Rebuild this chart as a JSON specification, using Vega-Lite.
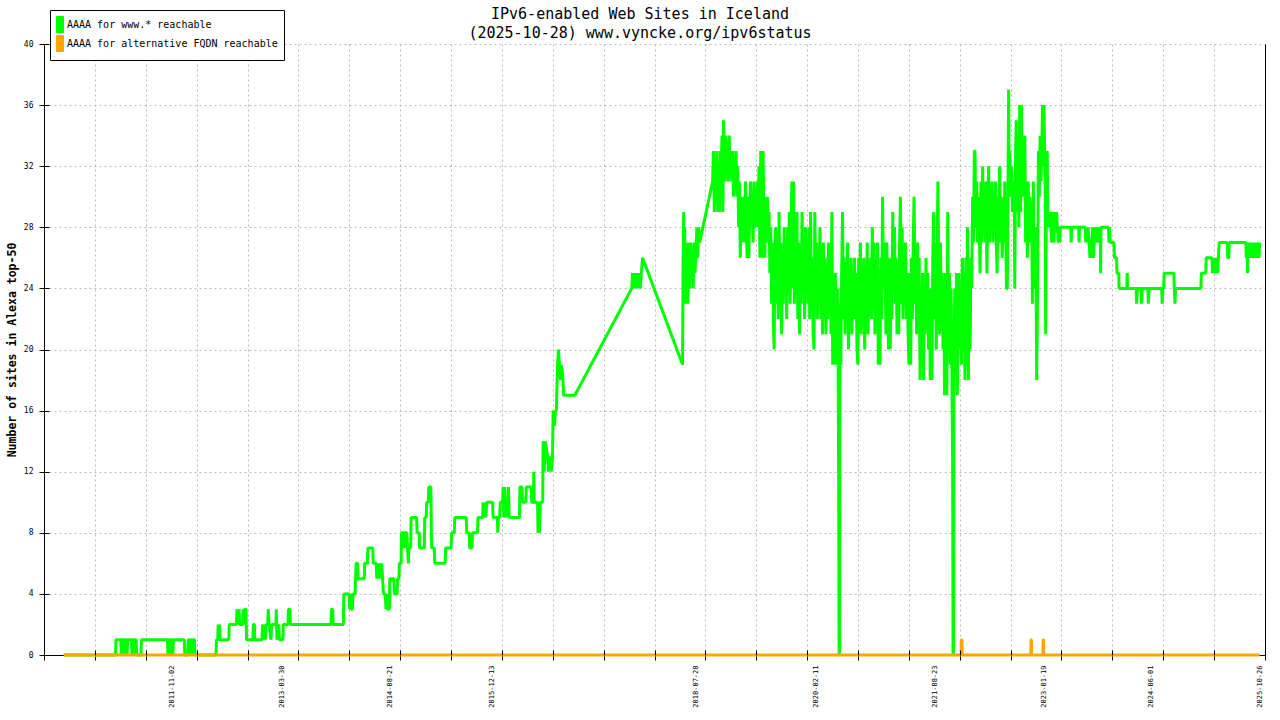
{
  "$schema": "https://vega.github.io/schema/vega-lite/v6.json",
  "width": 1221,
  "height": 611,
  "autosize": {"type": "none"},
  "padding": {"left": 44, "top": 44, "right": 15, "bottom": 65},
  "background": "white",
  "title": {
    "text": ["IPv6-enabled Web Sites in Iceland", "(2025-10-28) www.vyncke.org/ipv6status"],
    "font": "DejaVu Sans Mono",
    "fontSize": 15,
    "fontWeight": "normal",
    "color": "black",
    "lineHeight": 19,
    "anchor": "middle",
    "frame": "group",
    "dx": -14.5,
    "offset": -31
  },
  "datasets": {
    "www": [
      {"d":"2010-06-13","v":0},{"d":"2011-02-11","v":0},{"d":"2011-02-13","v":1},{"d":"2011-03-08","v":1},{"d":"2011-03-10","v":0},{"d":"2011-03-13","v":1},{"d":"2011-03-20","v":1},{"d":"2011-03-22","v":0},{"d":"2011-03-25","v":1},{"d":"2011-04-04","v":1},{"d":"2011-04-06","v":0},{"d":"2011-04-09","v":1},{"d":"2011-04-27","v":1},{"d":"2011-04-29","v":0},{"d":"2011-05-02","v":1},{"d":"2011-05-10","v":1},{"d":"2011-05-12","v":0},{"d":"2011-05-15","v":1},{"d":"2011-05-19","v":1},{"d":"2011-05-21","v":0},{"d":"2011-06-10","v":0},{"d":"2011-06-13","v":1},
      {"d":"2011-10-13","v":1},{"d":"2011-10-15","v":0},{"d":"2011-10-18","v":1},{"d":"2011-10-24","v":1},{"d":"2011-10-26","v":0},{"d":"2011-10-29","v":1},{"d":"2011-11-05","v":1},{"d":"2011-11-07","v":0},{"d":"2011-11-10","v":1},{"d":"2011-12-31","v":1},{"d":"2012-01-02","v":0},{"d":"2012-01-16","v":0},{"d":"2012-01-18","v":1},{"d":"2012-01-24","v":1},{"d":"2012-01-26","v":0},{"d":"2012-01-29","v":1},{"d":"2012-02-05","v":1},{"d":"2012-02-07","v":0},{"d":"2012-02-10","v":1},{"d":"2012-02-17","v":1},{"d":"2012-02-19","v":0},
      {"d":"2012-05-28","v":0},{"d":"2012-05-30","v":1},{"d":"2012-06-05","v":1},{"d":"2012-06-07","v":2},{"d":"2012-06-10","v":1},{"d":"2012-06-13","v":2},{"d":"2012-06-16","v":1},{"d":"2012-07-27","v":1},{"d":"2012-07-29","v":2},{"d":"2012-09-01","v":2},{"d":"2012-09-03","v":3},{"d":"2012-09-10","v":2},{"d":"2012-09-13","v":3},{"d":"2012-09-16","v":2},{"d":"2012-09-30","v":2},{"d":"2012-10-02","v":3},{"d":"2012-10-06","v":2},{"d":"2012-10-09","v":3},{"d":"2012-10-16","v":3},{"d":"2012-10-18","v":1},{"d":"2012-11-17","v":1},{"d":"2012-11-19","v":2},{"d":"2012-11-24","v":2},{"d":"2012-11-26","v":1},{"d":"2012-12-30","v":1},
      {"d":"2013-01-01","v":2},{"d":"2013-01-05","v":1},{"d":"2013-01-08","v":2},{"d":"2013-01-15","v":1},{"d":"2013-01-18","v":2},{"d":"2013-01-26","v":2},{"d":"2013-01-28","v":3},{"d":"2013-02-01","v":2},{"d":"2013-02-10","v":1},{"d":"2013-02-13","v":2},{"d":"2013-03-05","v":2},{"d":"2013-03-07","v":3},{"d":"2013-03-10","v":1},{"d":"2013-03-18","v":2},{"d":"2013-03-22","v":1},{"d":"2013-04-07","v":1},{"d":"2013-04-09","v":2},{"d":"2013-05-01","v":2},{"d":"2013-05-03","v":3},{"d":"2013-05-10","v":3},{"d":"2013-05-12","v":2},{"d":"2013-11-19","v":2},{"d":"2013-11-21","v":3},{"d":"2013-11-27","v":3},{"d":"2013-11-29","v":2},
      {"d":"2014-01-16","v":2},{"d":"2014-01-18","v":4},{"d":"2014-02-12","v":4},{"d":"2014-02-14","v":3},{"d":"2014-02-18","v":4},{"d":"2014-02-22","v":3},{"d":"2014-02-28","v":3},{"d":"2014-03-02","v":4},{"d":"2014-03-12","v":4},{"d":"2014-03-14","v":5},{"d":"2014-03-17","v":6},{"d":"2014-03-24","v":6},{"d":"2014-03-26","v":5},{"d":"2014-04-24","v":5},{"d":"2014-04-26","v":6},{"d":"2014-05-09","v":6},{"d":"2014-05-11","v":7},{"d":"2014-06-03","v":7},{"d":"2014-06-05","v":6},{"d":"2014-06-19","v":6},{"d":"2014-06-22","v":5},{"d":"2014-06-26","v":6},{"d":"2014-07-01","v":5},{"d":"2014-07-05","v":6},{"d":"2014-07-10","v":5},{"d":"2014-07-15","v":6},{"d":"2014-07-19","v":5},{"d":"2014-07-23","v":4},{"d":"2014-08-01","v":4},{"d":"2014-08-04","v":3},{"d":"2014-08-08","v":4},{"d":"2014-08-12","v":3},{"d":"2014-08-20","v":3},{"d":"2014-08-22","v":5},{"d":"2014-09-10","v":5},{"d":"2014-09-12","v":4},{"d":"2014-09-25","v":4},{"d":"2014-09-27","v":5},{"d":"2014-10-04","v":5},{"d":"2014-10-06","v":6},{"d":"2014-10-14","v":6},{"d":"2014-10-16","v":8},{"d":"2014-10-27","v":8},{"d":"2014-10-29","v":7},{"d":"2014-11-02","v":8},{"d":"2014-11-10","v":8},{"d":"2014-11-13","v":7},{"d":"2014-11-17","v":6},{"d":"2014-11-20","v":7},{"d":"2014-11-28","v":7},{"d":"2014-11-30","v":9},{"d":"2014-12-26","v":9},{"d":"2014-12-28","v":8},
      {"d":"2015-01-07","v":8},{"d":"2015-01-09","v":7},{"d":"2015-01-31","v":7},{"d":"2015-02-02","v":9},{"d":"2015-02-09","v":9},{"d":"2015-02-11","v":10},{"d":"2015-02-19","v":10},{"d":"2015-02-21","v":11},{"d":"2015-03-03","v":11},{"d":"2015-03-05","v":8},{"d":"2015-03-07","v":7},{"d":"2015-03-19","v":7},{"d":"2015-03-21","v":6},{"d":"2015-05-09","v":6},{"d":"2015-05-11","v":7},{"d":"2015-06-06","v":7},{"d":"2015-06-08","v":8},{"d":"2015-06-21","v":8},{"d":"2015-06-23","v":9},{"d":"2015-08-16","v":9},{"d":"2015-08-18","v":8},{"d":"2015-08-30","v":8},{"d":"2015-09-01","v":7},{"d":"2015-09-12","v":7},{"d":"2015-09-14","v":8},{"d":"2015-10-08","v":8},{"d":"2015-10-10","v":9},{"d":"2015-11-01","v":9},{"d":"2015-11-03","v":10},{"d":"2015-11-07","v":9},{"d":"2015-11-12","v":10},{"d":"2015-11-16","v":9},{"d":"2015-11-20","v":10},{"d":"2015-12-18","v":10},{"d":"2015-12-20","v":9},
      {"d":"2016-01-09","v":9},{"d":"2016-01-11","v":8},{"d":"2016-01-14","v":9},{"d":"2016-01-20","v":9},{"d":"2016-01-23","v":10},{"d":"2016-02-03","v":10},{"d":"2016-02-05","v":11},{"d":"2016-02-08","v":9},{"d":"2016-02-12","v":11},{"d":"2016-02-16","v":9},{"d":"2016-02-20","v":10},{"d":"2016-02-24","v":9},{"d":"2016-03-01","v":11},{"d":"2016-03-05","v":9},{"d":"2016-04-22","v":9},{"d":"2016-04-24","v":11},{"d":"2016-05-04","v":11},{"d":"2016-05-06","v":10},{"d":"2016-05-22","v":10},{"d":"2016-05-24","v":11},{"d":"2016-06-16","v":11},{"d":"2016-06-18","v":10},{"d":"2016-06-26","v":10},{"d":"2016-06-28","v":12},{"d":"2016-06-30","v":10},{"d":"2016-07-16","v":10},{"d":"2016-07-18","v":8},{"d":"2016-07-22","v":9},{"d":"2016-07-25","v":8},{"d":"2016-07-29","v":10},{"d":"2016-08-09","v":10},{"d":"2016-08-11","v":14},{"d":"2016-08-16","v":12},{"d":"2016-08-21","v":14},{"d":"2016-09-01","v":13},{"d":"2016-09-05","v":12},{"d":"2016-09-12","v":13},{"d":"2016-09-18","v":12},{"d":"2016-09-24","v":13},{"d":"2016-09-27","v":16},{"d":"2016-10-03","v":15},{"d":"2016-10-08","v":16},{"d":"2016-10-12","v":16},{"d":"2016-10-14","v":17},{"d":"2016-10-18","v":19},{"d":"2016-10-22","v":20},{"d":"2016-10-27","v":19},{"d":"2016-11-01","v":18},{"d":"2016-11-06","v":19},{"d":"2016-11-12","v":18},{"d":"2016-11-15","v":17},{"d":"2017-01-07","v":17},
      {"d":"2017-10-01","v":24},{"d":"2017-10-05","v":25},{"d":"2017-10-09","v":24},{"d":"2017-10-14","v":25},{"d":"2017-10-19","v":24},{"d":"2017-10-24","v":25},{"d":"2017-10-29","v":24},{"d":"2017-11-03","v":25},{"d":"2017-11-10","v":24},{"d":"2017-11-15","v":25},{"d":"2017-11-21","v":26},{"d":"2018-05-28","v":19},
      {"d":"2018-05-30","v":25},{"d":"2018-06-02","v":29},{"d":"2018-06-04","v":24},{"d":"2018-06-07","v":28},{"d":"2018-06-10","v":23},{"d":"2018-06-13","v":27},{"d":"2018-06-16","v":23},{"d":"2018-06-19","v":26},{"d":"2018-06-22","v":23},{"d":"2018-06-26","v":27},{"d":"2018-07-01","v":24},{"d":"2018-07-05","v":27},{"d":"2018-07-09","v":25},{"d":"2018-07-13","v":26},{"d":"2018-07-17","v":24},{"d":"2018-07-21","v":27},{"d":"2018-07-25","v":25},{"d":"2018-07-29","v":26},{"d":"2018-08-03","v":28},{"d":"2018-08-07","v":26},{"d":"2018-08-11","v":28},{"d":"2018-08-16","v":27},
      {"d":"2018-10-16","v":31},{"d":"2018-10-20","v":33},{"d":"2018-10-24","v":29},{"d":"2018-10-28","v":32},{"d":"2018-11-01","v":30},{"d":"2018-11-05","v":33},{"d":"2018-11-09","v":29},{"d":"2018-11-13","v":32},{"d":"2018-11-17","v":29},{"d":"2018-11-21","v":33},{"d":"2018-11-25","v":31},{"d":"2018-11-29","v":34},{"d":"2018-12-03","v":29},{"d":"2018-12-06","v":35},{"d":"2018-12-09","v":33},{"d":"2018-12-13","v":31},{"d":"2018-12-17","v":34},{"d":"2018-12-21","v":32},{"d":"2018-12-25","v":33},{"d":"2018-12-29","v":31},
      {"d":"2019-01-02","v":34},{"d":"2019-01-06","v":32},{"d":"2019-01-10","v":33},{"d":"2019-01-14","v":31},{"d":"2019-01-18","v":33},{"d":"2019-01-22","v":30},{"d":"2019-01-26","v":32},{"d":"2019-01-30","v":31},{"d":"2019-02-03","v":33},{"d":"2019-02-07","v":30},{"d":"2019-02-11","v":32},{"d":"2019-02-15","v":28},{"d":"2019-02-19","v":31},{"d":"2019-02-23","v":26},{"d":"2019-02-27","v":30},{"d":"2019-03-03","v":27},{"d":"2019-03-07","v":29},{"d":"2019-03-11","v":30},{"d":"2019-03-15","v":27},{"d":"2019-03-19","v":31},{"d":"2019-03-23","v":28},{"d":"2019-03-27","v":26},{"d":"2019-03-31","v":30},{"d":"2019-04-04","v":26},{"d":"2019-04-08","v":29},{"d":"2019-04-12","v":31},{"d":"2019-04-16","v":28},{"d":"2019-04-20","v":30},{"d":"2019-04-24","v":27},{"d":"2019-04-28","v":31},{"d":"2019-05-02","v":29},{"d":"2019-05-06","v":30},{"d":"2019-05-10","v":28},{"d":"2019-05-14","v":31},{"d":"2019-05-18","v":29},{"d":"2019-05-22","v":32},{"d":"2019-05-26","v":26},{"d":"2019-05-30","v":33},{"d":"2019-06-03","v":29},{"d":"2019-06-06","v":26},{"d":"2019-06-10","v":33},{"d":"2019-06-14","v":28},{"d":"2019-06-18","v":26},{"d":"2019-06-22","v":30},{"d":"2019-06-26","v":28},{"d":"2019-06-30","v":30},{"d":"2019-07-04","v":27},{"d":"2019-07-08","v":29},{"d":"2019-07-12","v":25},{"d":"2019-07-16","v":28},{"d":"2019-07-20","v":23},{"d":"2019-07-24","v":27},{"d":"2019-07-28","v":22},{"d":"2019-08-01","v":20},{"d":"2019-08-04","v":26},{"d":"2019-08-08","v":28},{"d":"2019-08-12","v":23},{"d":"2019-08-16","v":27},{"d":"2019-08-20","v":22},{"d":"2019-08-24","v":29},{"d":"2019-08-28","v":24},{"d":"2019-09-01","v":27},{"d":"2019-09-05","v":21},{"d":"2019-09-09","v":26},{"d":"2019-09-13","v":23},{"d":"2019-09-17","v":28},{"d":"2019-09-21","v":24},{"d":"2019-09-25","v":27},{"d":"2019-09-29","v":22},{"d":"2019-10-03","v":28},{"d":"2019-10-07","v":25},{"d":"2019-10-11","v":29},{"d":"2019-10-15","v":23},{"d":"2019-10-19","v":27},{"d":"2019-10-23","v":31},{"d":"2019-10-27","v":24},{"d":"2019-10-31","v":31},{"d":"2019-11-04","v":23},{"d":"2019-11-08","v":28},{"d":"2019-11-12","v":25},{"d":"2019-11-16","v":29},{"d":"2019-11-20","v":22},{"d":"2019-11-24","v":27},{"d":"2019-11-28","v":21},{"d":"2019-12-02","v":26},{"d":"2019-12-06","v":23},{"d":"2019-12-10","v":29},{"d":"2019-12-14","v":24},{"d":"2019-12-18","v":27},{"d":"2019-12-22","v":22},{"d":"2019-12-26","v":28},{"d":"2019-12-30","v":24},
      {"d":"2020-01-03","v":27},{"d":"2020-01-07","v":23},{"d":"2020-01-11","v":28},{"d":"2020-01-15","v":22},{"d":"2020-01-19","v":29},{"d":"2020-01-23","v":24},{"d":"2020-01-27","v":26},{"d":"2020-01-31","v":21},{"d":"2020-02-04","v":20},{"d":"2020-02-08","v":29},{"d":"2020-02-12","v":24},{"d":"2020-02-16","v":27},{"d":"2020-02-20","v":22},{"d":"2020-02-24","v":26},{"d":"2020-02-28","v":23},{"d":"2020-03-03","v":28},{"d":"2020-03-07","v":22},{"d":"2020-03-11","v":25},{"d":"2020-03-15","v":21},{"d":"2020-03-19","v":27},{"d":"2020-03-23","v":23},{"d":"2020-03-27","v":26},{"d":"2020-03-31","v":21},{"d":"2020-04-04","v":25},{"d":"2020-04-08","v":22},{"d":"2020-04-12","v":27},{"d":"2020-04-16","v":24},{"d":"2020-04-20","v":26},{"d":"2020-04-24","v":21},{"d":"2020-04-28","v":29},{"d":"2020-05-02","v":19},{"d":"2020-05-06","v":24},{"d":"2020-05-10","v":19},{"d":"2020-05-14","v":25},{"d":"2020-05-18","v":22},{"d":"2020-05-22","v":19},{"d":"2020-05-26","v":24},{"d":"2020-05-30","v":11},{"d":"2020-06-01","v":0},{"d":"2020-06-03","v":0},{"d":"2020-06-05","v":23},{"d":"2020-06-09","v":19},{"d":"2020-06-13","v":25},{"d":"2020-06-17","v":29},{"d":"2020-06-21","v":22},{"d":"2020-06-25","v":26},{"d":"2020-06-29","v":21},{"d":"2020-07-03","v":25},{"d":"2020-07-07","v":23},{"d":"2020-07-11","v":27},{"d":"2020-07-15","v":20},{"d":"2020-07-19","v":25},{"d":"2020-07-23","v":22},{"d":"2020-07-27","v":26},{"d":"2020-07-31","v":21},{"d":"2020-08-04","v":24},{"d":"2020-08-08","v":22},{"d":"2020-08-12","v":26},{"d":"2020-08-16","v":23},{"d":"2020-08-20","v":25},{"d":"2020-08-24","v":20},{"d":"2020-08-28","v":19},{"d":"2020-09-01","v":26},{"d":"2020-09-05","v":23},{"d":"2020-09-09","v":27},{"d":"2020-09-13","v":21},{"d":"2020-09-17","v":25},{"d":"2020-09-21","v":22},{"d":"2020-09-25","v":26},{"d":"2020-09-29","v":20},{"d":"2020-10-03","v":24},{"d":"2020-10-07","v":22},{"d":"2020-10-11","v":27},{"d":"2020-10-15","v":21},{"d":"2020-10-19","v":25},{"d":"2020-10-23","v":23},{"d":"2020-10-27","v":26},{"d":"2020-10-31","v":22},{"d":"2020-11-04","v":28},{"d":"2020-11-08","v":24},{"d":"2020-11-12","v":27},{"d":"2020-11-16","v":21},{"d":"2020-11-20","v":26},{"d":"2020-11-24","v":23},{"d":"2020-11-28","v":27},{"d":"2020-12-02","v":19},{"d":"2020-12-06","v":24},{"d":"2020-12-10","v":19},{"d":"2020-12-14","v":26},{"d":"2020-12-18","v":22},{"d":"2020-12-22","v":30},{"d":"2020-12-26","v":24},{"d":"2020-12-30","v":27},
      {"d":"2021-01-03","v":25},{"d":"2021-01-07","v":21},{"d":"2021-01-11","v":27},{"d":"2021-01-15","v":23},{"d":"2021-01-19","v":20},{"d":"2021-01-23","v":26},{"d":"2021-01-27","v":20},{"d":"2021-01-31","v":25},{"d":"2021-02-04","v":22},{"d":"2021-02-08","v":29},{"d":"2021-02-12","v":24},{"d":"2021-02-16","v":28},{"d":"2021-02-20","v":23},{"d":"2021-02-24","v":26},{"d":"2021-02-28","v":21},{"d":"2021-03-04","v":25},{"d":"2021-03-08","v":21},{"d":"2021-03-12","v":27},{"d":"2021-03-16","v":30},{"d":"2021-03-20","v":23},{"d":"2021-03-24","v":28},{"d":"2021-03-28","v":22},{"d":"2021-04-01","v":26},{"d":"2021-04-05","v":23},{"d":"2021-04-09","v":27},{"d":"2021-04-13","v":22},{"d":"2021-04-17","v":25},{"d":"2021-04-21","v":21},{"d":"2021-04-25","v":19},{"d":"2021-04-29","v":25},{"d":"2021-05-03","v":19},{"d":"2021-05-07","v":26},{"d":"2021-05-11","v":22},{"d":"2021-05-15","v":27},{"d":"2021-05-19","v":30},{"d":"2021-05-23","v":23},{"d":"2021-05-27","v":26},{"d":"2021-05-31","v":21},{"d":"2021-06-04","v":27},{"d":"2021-06-08","v":23},{"d":"2021-06-12","v":26},{"d":"2021-06-16","v":18},{"d":"2021-06-20","v":24},{"d":"2021-06-24","v":20},{"d":"2021-06-28","v":25},{"d":"2021-07-02","v":18},{"d":"2021-07-06","v":23},{"d":"2021-07-10","v":21},{"d":"2021-07-14","v":26},{"d":"2021-07-18","v":22},{"d":"2021-07-22","v":25},{"d":"2021-07-26","v":20},{"d":"2021-07-30","v":24},{"d":"2021-08-03","v":18},{"d":"2021-08-07","v":24},{"d":"2021-08-11","v":18},{"d":"2021-08-15","v":26},{"d":"2021-08-19","v":29},{"d":"2021-08-23","v":22},{"d":"2021-08-27","v":27},{"d":"2021-08-31","v":20},{"d":"2021-09-04","v":26},{"d":"2021-09-08","v":31},{"d":"2021-09-12","v":24},{"d":"2021-09-16","v":21},{"d":"2021-09-20","v":27},{"d":"2021-09-24","v":22},{"d":"2021-09-28","v":25},{"d":"2021-10-02","v":20},{"d":"2021-10-06","v":24},{"d":"2021-10-09","v":17},{"d":"2021-10-13","v":25},{"d":"2021-10-17","v":21},{"d":"2021-10-20","v":17},{"d":"2021-10-24","v":29},{"d":"2021-10-28","v":22},{"d":"2021-11-01","v":25},{"d":"2021-11-05","v":19},{"d":"2021-11-09","v":24},{"d":"2021-11-13","v":18},{"d":"2021-11-16","v":13},{"d":"2021-11-18","v":0},{"d":"2021-11-20","v":0},{"d":"2021-11-22","v":17},{"d":"2021-11-26","v":24},{"d":"2021-11-30","v":19},{"d":"2021-12-04","v":25},{"d":"2021-12-08","v":17},{"d":"2021-12-12","v":22},{"d":"2021-12-16","v":25},{"d":"2021-12-20","v":20},{"d":"2021-12-24","v":24},{"d":"2021-12-28","v":19},
      {"d":"2022-01-01","v":26},{"d":"2022-01-05","v":21},{"d":"2022-01-09","v":25},{"d":"2022-01-13","v":18},{"d":"2022-01-17","v":26},{"d":"2022-01-21","v":19},{"d":"2022-01-25","v":28},{"d":"2022-01-29","v":18},{"d":"2022-02-02","v":25},{"d":"2022-02-06","v":20},{"d":"2022-02-10","v":26},{"d":"2022-02-14","v":24},{"d":"2022-02-18","v":30},{"d":"2022-02-22","v":27},{"d":"2022-02-26","v":33},{"d":"2022-03-01","v":33},{"d":"2022-03-05","v":28},{"d":"2022-03-09","v":31},{"d":"2022-03-13","v":27},{"d":"2022-03-17","v":30},{"d":"2022-03-21","v":28},{"d":"2022-03-25","v":25},{"d":"2022-03-29","v":31},{"d":"2022-04-02","v":27},{"d":"2022-04-06","v":32},{"d":"2022-04-10","v":28},{"d":"2022-04-14","v":30},{"d":"2022-04-18","v":27},{"d":"2022-04-22","v":31},{"d":"2022-04-26","v":25},{"d":"2022-04-30","v":29},{"d":"2022-05-04","v":32},{"d":"2022-05-08","v":27},{"d":"2022-05-12","v":30},{"d":"2022-05-16","v":28},{"d":"2022-05-20","v":31},{"d":"2022-05-24","v":27},{"d":"2022-05-28","v":30},{"d":"2022-06-01","v":28},{"d":"2022-06-05","v":31},{"d":"2022-06-09","v":27},{"d":"2022-06-13","v":25},{"d":"2022-06-17","v":30},{"d":"2022-06-21","v":28},{"d":"2022-06-25","v":32},{"d":"2022-06-29","v":27},{"d":"2022-07-03","v":30},{"d":"2022-07-07","v":26},{"d":"2022-07-11","v":29},{"d":"2022-07-15","v":27},{"d":"2022-07-19","v":31},{"d":"2022-07-23","v":28},{"d":"2022-07-27","v":24},{"d":"2022-07-31","v":24},{"d":"2022-08-03","v":30},{"d":"2022-08-06","v":37},{"d":"2022-08-09","v":30},{"d":"2022-08-12","v":33},{"d":"2022-08-16","v":30},{"d":"2022-08-20","v":32},{"d":"2022-08-24","v":29},{"d":"2022-08-28","v":31},{"d":"2022-09-01","v":30},{"d":"2022-09-04","v":24},{"d":"2022-09-08","v":33},{"d":"2022-09-11","v":35},{"d":"2022-09-15","v":29},{"d":"2022-09-19","v":34},{"d":"2022-09-23","v":28},{"d":"2022-09-27","v":36},{"d":"2022-10-01","v":29},{"d":"2022-10-05","v":36},{"d":"2022-10-09","v":30},{"d":"2022-10-13","v":33},{"d":"2022-10-17","v":30},{"d":"2022-10-21","v":34},{"d":"2022-10-25","v":27},{"d":"2022-10-29","v":30},{"d":"2022-11-02","v":26},{"d":"2022-11-06","v":31},{"d":"2022-11-10","v":27},{"d":"2022-11-14","v":30},{"d":"2022-11-18","v":27},{"d":"2022-11-22","v":29},{"d":"2022-11-26","v":23},{"d":"2022-11-30","v":31},{"d":"2022-12-04","v":24},{"d":"2022-12-08","v":28},{"d":"2022-12-12","v":26},{"d":"2022-12-16","v":18},{"d":"2022-12-20","v":24},{"d":"2022-12-24","v":33},{"d":"2022-12-28","v":30},
      {"d":"2023-01-01","v":34},{"d":"2023-01-05","v":31},{"d":"2023-01-09","v":33},{"d":"2023-01-12","v":36},{"d":"2023-01-16","v":32},{"d":"2023-01-19","v":36},{"d":"2023-01-22","v":33},{"d":"2023-01-25","v":30},{"d":"2023-01-27","v":21},{"d":"2023-01-30","v":29},{"d":"2023-02-03","v":33},{"d":"2023-02-07","v":28},{"d":"2023-02-11","v":29},{"d":"2023-02-15","v":28},{"d":"2023-02-19","v":29},{"d":"2023-02-23","v":27},{"d":"2023-02-27","v":29},{"d":"2023-03-03","v":28},{"d":"2023-03-07","v":27},{"d":"2023-03-11","v":29},{"d":"2023-03-15","v":28},{"d":"2023-03-19","v":29},{"d":"2023-03-23","v":28},{"d":"2023-03-27","v":27},{"d":"2023-03-31","v":28},{"d":"2023-04-03","v":27},{"d":"2023-04-05","v":28},{"d":"2023-05-25","v":28},{"d":"2023-05-27","v":27},{"d":"2023-05-29","v":28},{"d":"2023-07-01","v":28},{"d":"2023-07-03","v":27},{"d":"2023-07-05","v":28},{"d":"2023-08-01","v":28},{"d":"2023-08-03","v":27},{"d":"2023-08-06","v":28},{"d":"2023-08-10","v":27},{"d":"2023-08-14","v":28},{"d":"2023-08-20","v":27},{"d":"2023-08-23","v":26},{"d":"2023-08-27","v":27},{"d":"2023-08-31","v":26},{"d":"2023-09-04","v":28},{"d":"2023-09-08","v":26},{"d":"2023-09-12","v":27},{"d":"2023-09-16","v":28},{"d":"2023-09-20","v":27},{"d":"2023-09-24","v":28},{"d":"2023-09-28","v":27},{"d":"2023-10-02","v":28},{"d":"2023-10-06","v":27},{"d":"2023-10-10","v":28},{"d":"2023-10-12","v":25},{"d":"2023-10-14","v":28},{"d":"2023-11-18","v":28},{"d":"2023-11-20","v":27},{"d":"2023-11-23","v":28},{"d":"2023-11-26","v":27},{"d":"2023-12-14","v":27},{"d":"2023-12-16","v":26},{"d":"2023-12-26","v":26},{"d":"2023-12-28","v":25},
      {"d":"2024-01-05","v":25},{"d":"2024-01-07","v":24},{"d":"2024-02-12","v":24},{"d":"2024-02-14","v":25},{"d":"2024-02-16","v":24},{"d":"2024-03-27","v":24},{"d":"2024-03-29","v":23},{"d":"2024-04-02","v":24},{"d":"2024-04-19","v":24},{"d":"2024-04-21","v":23},{"d":"2024-04-25","v":24},{"d":"2024-05-21","v":24},{"d":"2024-05-23","v":23},{"d":"2024-05-27","v":24},{"d":"2024-07-25","v":24},{"d":"2024-07-27","v":23},{"d":"2024-07-31","v":24},{"d":"2024-08-03","v":24},{"d":"2024-08-05","v":25},{"d":"2024-09-20","v":25},{"d":"2024-09-22","v":24},{"d":"2024-09-25","v":23},{"d":"2024-09-28","v":24},
      {"d":"2025-01-25","v":24},{"d":"2025-01-27","v":25},{"d":"2025-02-17","v":25},{"d":"2025-02-19","v":26},{"d":"2025-03-18","v":26},{"d":"2025-03-20","v":25},{"d":"2025-03-24","v":26},{"d":"2025-03-28","v":25},{"d":"2025-04-02","v":26},{"d":"2025-04-06","v":25},{"d":"2025-04-10","v":26},{"d":"2025-04-13","v":25},{"d":"2025-04-17","v":26},{"d":"2025-04-21","v":27},{"d":"2025-05-29","v":27},{"d":"2025-05-31","v":26},{"d":"2025-06-05","v":26},{"d":"2025-06-07","v":27},{"d":"2025-08-24","v":27},{"d":"2025-08-26","v":26},{"d":"2025-08-29","v":27},{"d":"2025-09-01","v":25},{"d":"2025-09-03","v":27},{"d":"2025-09-07","v":26},{"d":"2025-09-11","v":27},{"d":"2025-09-15","v":26},{"d":"2025-09-19","v":27},{"d":"2025-09-23","v":26},{"d":"2025-09-27","v":27},{"d":"2025-10-01","v":26},{"d":"2025-10-05","v":27},{"d":"2025-10-09","v":26},{"d":"2025-10-13","v":27},{"d":"2025-10-17","v":26},{"d":"2025-10-21","v":27},{"d":"2025-10-25","v":26},{"d":"2025-10-28","v":27}
    ],
    "alt": [
      {"d":"2010-06-13","v":0},{"d":"2021-12-26","v":0},{"d":"2021-12-27","v":1},{"d":"2021-12-30","v":1},{"d":"2021-12-31","v":0},{"d":"2022-11-18","v":0},{"d":"2022-11-19","v":1},{"d":"2022-11-21","v":1},{"d":"2022-11-22","v":0},{"d":"2023-01-14","v":0},{"d":"2023-01-15","v":1},{"d":"2023-01-17","v":1},{"d":"2023-01-18","v":0},{"d":"2025-10-28","v":0}
    ]
  },
  "layer": [
    {
      "data": {"name": "www"},
      "mark": {"type": "line", "strokeWidth": 3, "strokeJoin": "bevel", "strokeCap": "butt"},
      "encoding": {
        "x": {
          "field": "d",
          "type": "temporal",
          "scale": {
            "type": "utc",
            "domain": [{"year": 2010, "month": 3, "date": 12, "utc": true}, {"year": 2025, "month": 11, "date": 22, "utc": true}]
          },
          "axis": {
            "title": null,
            "labels": false,
            "values": [
              {"year": 2010, "month": 3, "date": 12, "utc": true},
              {"year": 2010, "month": 11, "date": 6, "utc": true},
              {"year": 2011, "month": 7, "date": 3, "utc": true},
              {"year": 2012, "month": 2, "date": 27, "utc": true},
              {"year": 2012, "month": 10, "date": 23, "utc": true},
              {"year": 2013, "month": 6, "date": 19, "utc": true},
              {"year": 2014, "month": 2, "date": 12, "utc": true},
              {"year": 2014, "month": 10, "date": 9, "utc": true},
              {"year": 2015, "month": 6, "date": 5, "utc": true},
              {"year": 2016, "month": 1, "date": 30, "utc": true},
              {"year": 2016, "month": 9, "date": 25, "utc": true},
              {"year": 2017, "month": 5, "date": 22, "utc": true},
              {"year": 2018, "month": 1, "date": 16, "utc": true},
              {"year": 2018, "month": 9, "date": 12, "utc": true},
              {"year": 2019, "month": 5, "date": 9, "utc": true},
              {"year": 2020, "month": 1, "date": 3, "utc": true},
              {"year": 2020, "month": 8, "date": 28, "utc": true},
              {"year": 2021, "month": 4, "date": 24, "utc": true},
              {"year": 2021, "month": 12, "date": 19, "utc": true},
              {"year": 2022, "month": 8, "date": 15, "utc": true},
              {"year": 2023, "month": 4, "date": 11, "utc": true},
              {"year": 2023, "month": 12, "date": 6, "utc": true},
              {"year": 2024, "month": 8, "date": 1, "utc": true},
              {"year": 2025, "month": 3, "date": 28, "utc": true},
              {"year": 2025, "month": 11, "date": 22, "utc": true}
            ],
            "grid": true,
            "gridColor": "#bbbbbb",
            "gridDash": [2, 3],
            "ticks": true,
            "tickSize": 5,
            "tickColor": "black",
            "domainColor": "black"
          }
        },
        "y": {
          "field": "v",
          "type": "quantitative",
          "scale": {"domain": [0, 40], "nice": false},
          "axis": {
            "values": [0, 4, 8, 12, 16, 20, 24, 28, 32, 36, 40],
            "grid": true,
            "gridColor": "#bbbbbb",
            "gridDash": [2, 3],
            "tickSize": 5,
            "tickColor": "black",
            "domainColor": "black",
            "labelFont": "DejaVu Sans Mono",
            "labelFontSize": 8,
            "labelColor": "black",
            "labelPadding": 6,
            "title": "Number of sites in Alexa top-50",
            "titleFont": "DejaVu Sans Mono",
            "titleFontSize": 11.5,
            "titleFontWeight": "bold",
            "titleColor": "black",
            "titleAngle": 270,
            "titleX": -32,
            "titleY": 305.5,
            "titleAlign": "center",
            "titleBaseline": "middle"
          }
        },
        "color": {
          "datum": "AAAA for www.* reachable",
          "type": "nominal",
          "scale": {
            "domain": ["AAAA for www.* reachable", "AAAA for alternative FQDN reachable"],
            "range": ["#00ff00", "#ffa500"]
          },
          "legend": {
            "title": null,
            "orient": "none",
            "legendX": 6,
            "legendY": -34,
            "direction": "vertical",
            "strokeColor": "black",
            "fillColor": "white",
            "padding": 6,
            "labelFont": "DejaVu Sans Mono",
            "labelFontSize": 10,
            "labelColor": "black",
            "labelLimit": 0,
            "labelOffset": -1.5,
            "rowPadding": -3,
            "symbolType": "M-0.44,-1L0.44,-1L0.44,1L-0.44,1Z",
            "symbolSize": 256,
            "symbolOffset": -4.5,
            "symbolStrokeColor": "black",
            "symbolStrokeWidth": 1,
            "encode": {
              "symbols": {
                "update": {
                  "fill": {"scale": "color", "field": "value"},
                  "stroke": {"value": "black"},
                  "strokeWidth": {"value": 1},
                  "opacity": {"value": 1}
                }
              }
            }
          }
        }
      }
    },
    {
      "data": {"name": "alt"},
      "mark": {"type": "line", "strokeWidth": 3, "strokeJoin": "bevel", "strokeCap": "butt"},
      "encoding": {
        "x": {
          "field": "d",
          "type": "temporal",
          "axis": {
            "orient": "bottom",
            "title": null,
            "values": [
              {"year": 2011, "month": 11, "date": 2, "utc": true},
              {"year": 2013, "month": 3, "date": 30, "utc": true},
              {"year": 2014, "month": 8, "date": 21, "utc": true},
              {"year": 2015, "month": 12, "date": 13, "utc": true},
              {"year": 2018, "month": 7, "date": 28, "utc": true},
              {"year": 2020, "month": 2, "date": 11, "utc": true},
              {"year": 2021, "month": 8, "date": 23, "utc": true},
              {"year": 2023, "month": 1, "date": 19, "utc": true},
              {"year": 2024, "month": 6, "date": 1, "utc": true},
              {"year": 2025, "month": 10, "date": 26, "utc": true}
            ],
            "format": "%Y-%m-%d",
            "labelAngle": 270,
            "labelFont": "DejaVu Sans Mono",
            "labelFontSize": 7,
            "labelColor": "black",
            "labelPadding": 10,
            "labelOverlap": false,
            "labelFlush": false,
            "ticks": false,
            "tickSize": 0,
            "grid": false,
            "domain": false
          }
        },
        "y": {
          "field": "v",
          "type": "quantitative",
          "axis": {
            "orient": "right",
            "title": null,
            "labels": false,
            "ticks": false,
            "grid": false,
            "domainColor": "black"
          }
        },
        "color": {"datum": "AAAA for alternative FQDN reachable", "type": "nominal"}
      }
    },
    {
      "data": {"name": "alt"},
      "mark": {"type": "line", "opacity": 0},
      "encoding": {
        "x": {
          "field": "d",
          "type": "temporal",
          "axis": {
            "orient": "bottom",
            "title": null,
            "labels": false,
            "grid": false,
            "domain": false,
            "values": [
              {"year": 2010, "month": 3, "date": 12, "utc": true},
              {"year": 2010, "month": 11, "date": 6, "utc": true},
              {"year": 2011, "month": 7, "date": 3, "utc": true},
              {"year": 2012, "month": 2, "date": 27, "utc": true},
              {"year": 2012, "month": 10, "date": 23, "utc": true},
              {"year": 2013, "month": 6, "date": 19, "utc": true},
              {"year": 2014, "month": 2, "date": 12, "utc": true},
              {"year": 2014, "month": 10, "date": 9, "utc": true},
              {"year": 2015, "month": 6, "date": 5, "utc": true},
              {"year": 2016, "month": 1, "date": 30, "utc": true},
              {"year": 2016, "month": 9, "date": 25, "utc": true},
              {"year": 2017, "month": 5, "date": 22, "utc": true},
              {"year": 2018, "month": 1, "date": 16, "utc": true},
              {"year": 2018, "month": 9, "date": 12, "utc": true},
              {"year": 2019, "month": 5, "date": 9, "utc": true},
              {"year": 2020, "month": 1, "date": 3, "utc": true},
              {"year": 2020, "month": 8, "date": 28, "utc": true},
              {"year": 2021, "month": 4, "date": 24, "utc": true},
              {"year": 2021, "month": 12, "date": 19, "utc": true},
              {"year": 2022, "month": 8, "date": 15, "utc": true},
              {"year": 2023, "month": 4, "date": 11, "utc": true},
              {"year": 2023, "month": 12, "date": 6, "utc": true},
              {"year": 2024, "month": 8, "date": 1, "utc": true},
              {"year": 2025, "month": 3, "date": 28, "utc": true},
              {"year": 2025, "month": 11, "date": 22, "utc": true}
            ],
            "ticks": true,
            "tickSize": -5,
            "tickColor": "black",
            "zindex": 1
          }
        },
        "y": {
          "field": "v",
          "type": "quantitative",
          "axis": {
            "orient": "left",
            "title": null,
            "labels": false,
            "grid": false,
            "domain": false,
            "values": [0, 4, 8, 12, 16, 20, 24, 28, 32, 36, 40],
            "ticks": true,
            "tickSize": -5,
            "tickColor": "black"
          }
        }
      }
    }
  ],
  "resolve": {"axis": {"x": "independent", "y": "independent"}},
  "config": {
    "font": "DejaVu Sans Mono",
    "view": {"stroke": null}
  }
}
